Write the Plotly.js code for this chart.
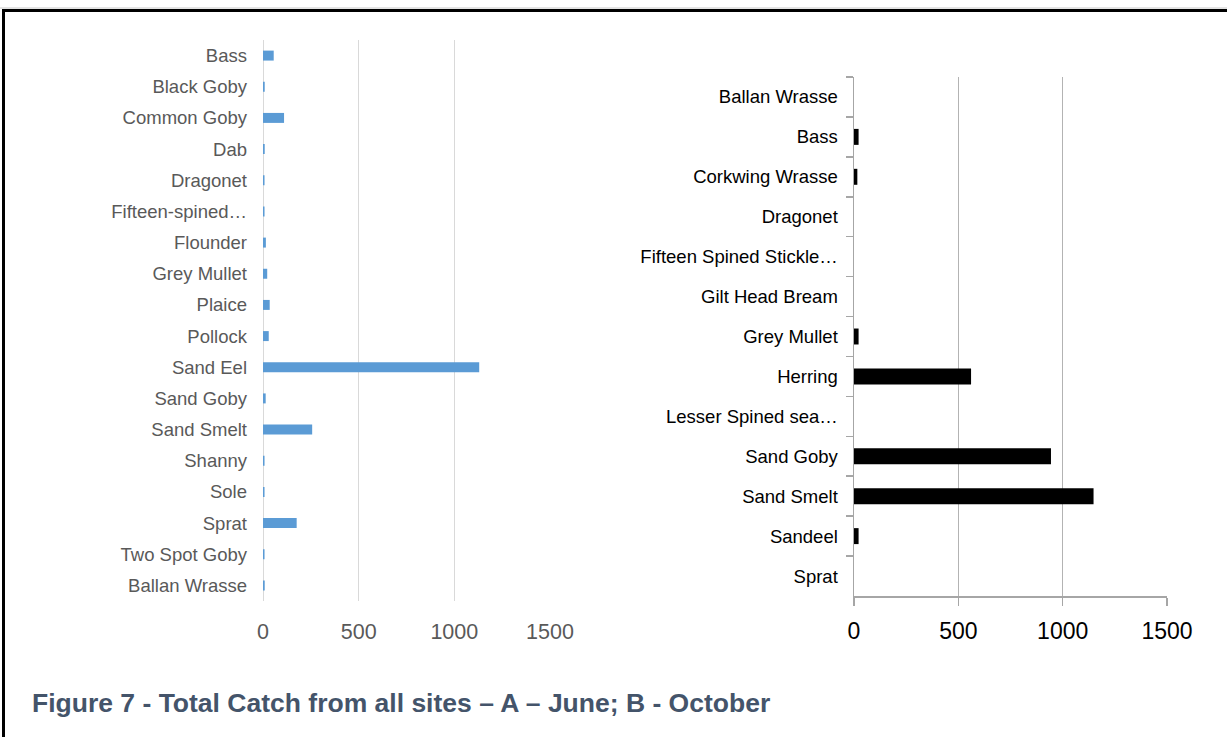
<!DOCTYPE html>
<html>
<head>
<meta charset="utf-8">
<script src="https://cdn.plot.ly/plotly-3.0.1.min.js"></script>
<style>
html,body{margin:0;padding:0;background:#fff;overflow:hidden;}
#chart{width:1227px;height:737px;}
</style>
</head>
<body>
<div id="chart"></div>
<script>
// A - June
const juneSpecies = ["Bass","Black Goby","Common Goby","Dab","Dragonet","Fifteen-spined…","Flounder","Grey Mullet","Plaice","Pollock","Sand Eel","Sand Goby","Sand Smelt","Shanny","Sole","Sprat","Two Spot Goby","Ballan Wrasse"];
const juneCatch = [56,9,110,9,8,8,15,22,35,30,1130,14,257,8,8,176,8,9];

// B - October
const octSpecies = ["Ballan Wrasse","Bass","Corkwing Wrasse","Dragonet","Fifteen Spined Stickle…","Gilt Head Bream","Grey Mullet","Herring","Lesser Spined sea…","Sand Goby","Sand Smelt","Sandeel","Sprat"];
const octCatch = [0,22,16,0,0,0,22,561,0,944,1148,22,0];

const xTicks = [0,500,1000,1500];
const caption = "Figure 7 - Total Catch from all sites – A – June; B - October";

const W = 1227, H = 737;
const px = x => x / W;
const py = y => 1 - y / H;

const traces = [
  {
    type: "bar", orientation: "h",
    x: juneCatch, y: juneSpecies,
    xaxis: "x", yaxis: "y",
    marker: {color: "#5b9bd5"},
    width: 0.32,
    hoverinfo: "x+y"
  },
  {
    type: "bar", orientation: "h",
    x: octCatch, y: octSpecies,
    xaxis: "x2", yaxis: "y2",
    marker: {color: "#000000"},
    width: 0.4,
    hoverinfo: "x+y"
  }
];

const layout = {
  width: W, height: H,
  margin: {l: 0, r: 0, t: 0, b: 0},
  paper_bgcolor: "#ffffff",
  plot_bgcolor: "rgba(0,0,0,0)",
  showlegend: false,
  font: {family: "Liberation Sans, Arial, sans-serif"},
  xaxis: {
    domain: [px(263), px(550)],
    anchor: "y",
    range: [0, 1500],
    tickvals: xTicks,
    ticktext: xTicks.map(String),
    showgrid: true, gridcolor: "#d9d9d9", gridwidth: 1,
    zeroline: true, zerolinecolor: "#d9d9d9", zerolinewidth: 1,
    showline: false,
    ticks: "",
    ticklabelstandoff: 15,
    tickfont: {size: 21.5, color: "#595959"},
    fixedrange: true
  },
  yaxis: {
    domain: [py(601), py(40)],
    anchor: "x",
    type: "category",
    categoryorder: "array", categoryarray: juneSpecies,
    autorange: "reversed",
    showgrid: false, zeroline: false, showline: false,
    ticks: "",
    ticklabelstandoff: 15,
    tickfont: {size: 18.5, color: "#595959"},
    fixedrange: true
  },
  xaxis2: {
    domain: [px(854), px(1167)],
    anchor: "y2",
    range: [0, 1500],
    tickvals: xTicks,
    ticktext: xTicks.map(String),
    showgrid: true, gridcolor: "#b3b3b3", gridwidth: 1.5,
    zeroline: false,
    showline: true, linecolor: "#a6a6a6", linewidth: 1.5,
    ticks: "outside", ticklen: 8, tickcolor: "#a6a6a6", tickwidth: 1.5,
    ticklabelstandoff: 6,
    tickfont: {size: 23, color: "#000000"},
    fixedrange: true
  },
  yaxis2: {
    domain: [py(596), py(77)],
    anchor: "x2",
    type: "category",
    categoryorder: "array", categoryarray: octSpecies,
    autorange: "reversed",
    showgrid: false, zeroline: false,
    showline: true, linecolor: "#a6a6a6", linewidth: 1.5,
    ticks: "outside", tickson: "boundaries", ticklen: 7, tickcolor: "#a6a6a6", tickwidth: 1.5,
    ticklabelstandoff: 11,
    tickfont: {size: 18.5, color: "#000000"},
    fixedrange: true
  },
  annotations: [
    {
      xref: "paper", yref: "paper",
      x: px(30), y: py(703),
      xanchor: "left", yanchor: "middle",
      text: "<b>" + caption + "</b>",
      showarrow: false,
      font: {size: 26.5, color: "#44546a", family: "Liberation Sans, Arial, sans-serif"}
    }
  ],
  shapes: [
    {type: "line", xref: "paper", yref: "paper", x0: 0, x1: 1.01, y0: py(8), y1: py(8), line: {color: "#c8c8c8", width: 1}},
    {type: "line", xref: "paper", yref: "paper", x0: px(2), x1: 1.01, y0: py(10.5), y1: py(10.5), line: {color: "#000000", width: 3}},
    {type: "line", xref: "paper", yref: "paper", x0: px(3.5), x1: px(3.5), y0: py(9), y1: -0.05, line: {color: "#000000", width: 3}}
  ]
};

Plotly.newPlot("chart", traces, layout, {displayModeBar: false, staticPlot: true});
</script>
</body>
</html>
